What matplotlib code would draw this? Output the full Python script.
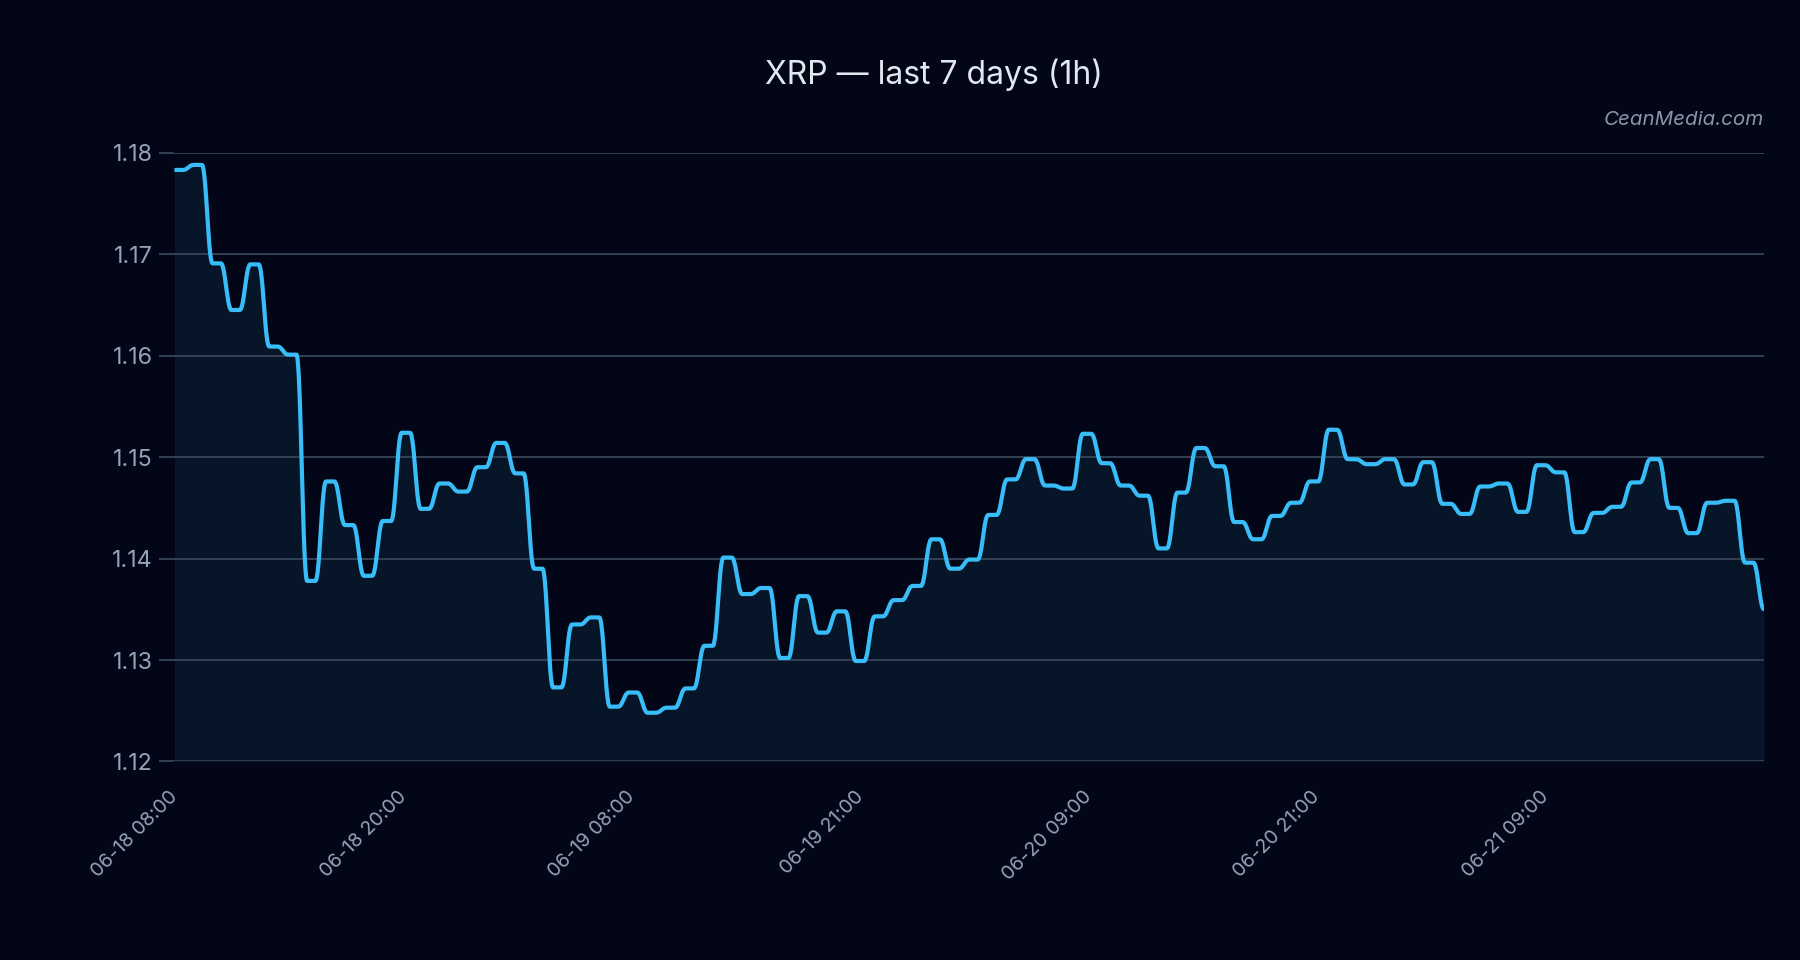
import numpy as np
import matplotlib
matplotlib.use("Agg")
import matplotlib.pyplot as plt

# ---------------- data ----------------
prices = [
    1.1783, 1.1788, 1.1691, 1.1645, 1.1690, 1.1609, 1.1601, 1.1378, 1.1476, 1.1433,
    1.1383, 1.1437, 1.1524, 1.1449, 1.1474, 1.1466, 1.1490, 1.1514, 1.1484, 1.1390,
    1.1273, 1.1335, 1.1342, 1.1254, 1.1268, 1.1248, 1.1253, 1.1272, 1.1314, 1.1401,
    1.1365, 1.1371, 1.1302, 1.1363, 1.1327, 1.1348, 1.1299, 1.1343, 1.1359, 1.1373,
    1.1419, 1.1390, 1.1399, 1.1443, 1.1478, 1.1498, 1.1472, 1.1469, 1.1523, 1.1494,
    1.1472, 1.1462, 1.1410, 1.1465, 1.1509, 1.1491, 1.1436, 1.1419, 1.1442, 1.1455,
    1.1476, 1.1527, 1.1498, 1.1493, 1.1498, 1.1473, 1.1495, 1.1454, 1.1444, 1.1471,
    1.1474, 1.1446, 1.1492, 1.1485, 1.1426, 1.1445, 1.1451, 1.1475, 1.1498, 1.1450,
    1.1425, 1.1455, 1.1457, 1.1396, 1.1350,
]
tick_rows = [0, 12, 24, 36, 48, 60, 72]
tick_labels = ["06-18 08:00", "06-18 20:00", "06-19 08:00", "06-19 21:00",
               "06-20 09:00", "06-20 21:00", "06-21 09:00"]
y_ticks = [1.12, 1.13, 1.14, 1.15, 1.16, 1.17, 1.18]
title = "XRP \u2014 last 7 days (1h)"
watermark = "CeanMedia.com"

# ---------------- style ----------------
BG = "#020617"
FILL = "#061528"
LINE = "#38bdf8"
GRID = "#334155"
TICK = "#94a3b8"

plt.rcParams["font.family"] = ["Inter", "DejaVu Sans"]


def eased_steps(values, xq, ramp=0.56, corner=0.4):
    """Render helper: hold each hourly value, ease to the next one mid-interval."""
    v = np.asarray(values, dtype=float)
    n = len(v)
    k = np.clip(np.floor(xq).astype(int), 0, n - 2)
    f = xq - k
    u = np.clip((f - (0.5 - ramp / 2)) / ramp, 0, 1)
    c = corner
    m = 1.0 / (1.0 - c)
    s = np.where(u < c, m * u ** 2 / (2 * c),
                 np.where(u > 1 - c, 1 - m * (1 - u) ** 2 / (2 * c), m * (u - c / 2)))
    return v[k] + (v[k + 1] - v[k]) * s


fig = plt.figure(figsize=(9, 4.8), dpi=200, facecolor=BG)
ax = fig.add_axes([0.0969, 0.2068, 0.8831, 0.6341])
ax.set_facecolor(BG)

x_lo, x_hi = -0.233, 83.78
xq = np.linspace(x_lo, x_hi, 8000)
yq = eased_steps(prices, xq)

ax.fill_between(xq, yq, y_ticks[0], color=FILL, lw=0, zorder=1)
ax.plot(xq, yq, color=LINE, lw=1.5, solid_joinstyle="round", solid_capstyle="butt", zorder=3)

ax.set_xlim(x_lo, x_hi)
ax.set_ylim(y_ticks[0], y_ticks[-1])
ax.set_yticks(y_ticks)
ax.set_yticklabels([f"{t:.2f}" for t in y_ticks])
# tick spacing of the source axis is slightly wider than one row per hour
ax.set_xticks(np.asarray(tick_rows) * 1.0058 + 0.15)
ax.set_xticklabels(tick_labels, rotation=45, ha="right")

ax.grid(axis="y", color=GRID, lw=0.7, zorder=2)
ax.grid(axis="x", visible=False)
for sp in ax.spines.values():
    sp.set_visible(False)
ax.tick_params(axis="y", colors=GRID, labelcolor=TICK, labelsize=8.4, length=5.5, width=0.7, pad=2.3)
ax.tick_params(axis="x", colors=TICK, labelcolor=TICK, labelsize=7.1, length=0, pad=9.5)

fig.text(0.519, 0.9223, title, ha="center", va="center", fontsize=11.5, color="#e2e8f0")
fig.text(0.98, 0.8755, watermark, ha="right", va="center", fontsize=7.4,
         style="italic", color="#8b95a7")

fig.savefig("out.png", dpi=200, facecolor=BG)
